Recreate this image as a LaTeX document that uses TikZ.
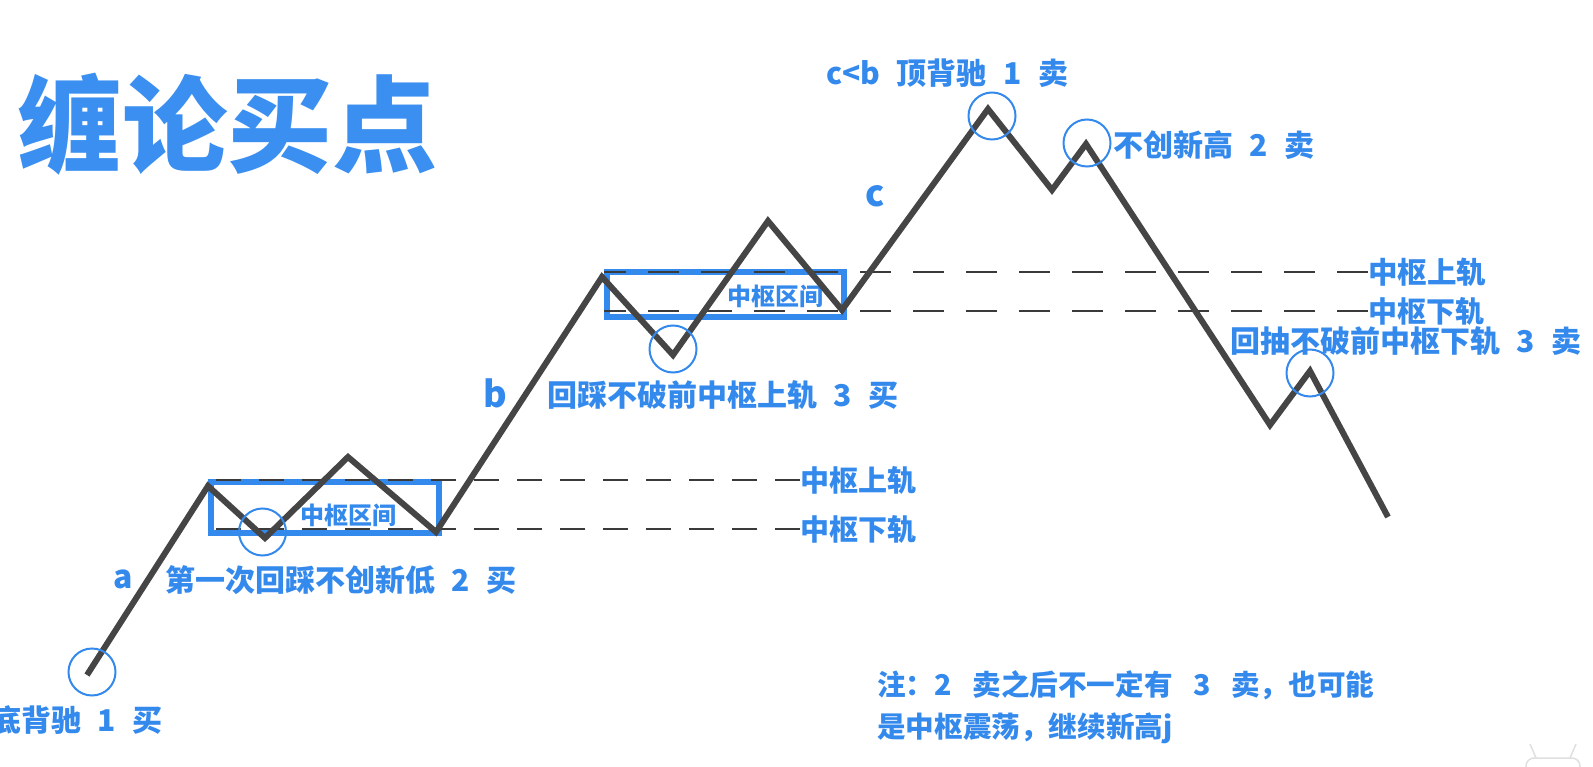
\documentclass[tikz,border=0pt]{standalone}
\usepackage{fontspec}
\newfontfamily\cjk{Noto Sans CJK SC}
\definecolor{cblue}{HTML}{3489EC}
\definecolor{ctitle}{HTML}{3A8FF0}
\definecolor{cline}{HTML}{454545}
\definecolor{cdash}{HTML}{3A3A3A}
\newcommand\spc{\hspace{0.55em}}
\newcommand\spcn{\hspace{0.72em}}
\tikzset{
  lbl/.style={text=cblue, font=\cjk\bfseries\fontsize{30}{34}\selectfont, inner sep=0pt, anchor=west},
  rail lbl/.style={lbl, font=\cjk\bfseries\fontsize{29.5}{34}\selectfont},
  small lbl/.style={lbl, font=\cjk\bfseries\fontsize{24}{28}\selectfont},
  note lbl/.style={lbl, font=\cjk\bfseries\fontsize{28.6}{32}\selectfont},
  leg lbl/.style={text=cblue, inner sep=0pt},
  ring/.style={circle, draw=cblue, line width=2pt, minimum size=47pt, inner sep=0pt},
  zig/.style={draw=cline, line width=6pt, line join=miter},
  zbox/.style={rectangle, draw=cblue, line width=6pt, inner sep=0pt},
  railA/.style={draw=cdash, line width=2.2pt, dash pattern=on 25pt off 18pt},
  railB/.style={draw=cdash, line width=2.2pt, dash pattern=on 31pt off 22pt},
}
\begin{document}
\begin{tikzpicture}[x=1pt,y=-1pt]
\path[fill=white] (0,0) rectangle (1593,767);
\useasboundingbox (0,0) rectangle (1593,767);

% title
\node[font=\cjk\bfseries\fontsize{105}{110}\selectfont, text=ctitle, inner sep=0pt] (title) at (227,124) {缠论买点};

% zhongshu boxes
\node[zbox, minimum width=228pt, minimum height=51pt] (zb1) at (325,507.5) {};
\node[zbox, minimum width=237pt, minimum height=45pt] (zb2) at (725.5,294.5) {};
\node[small lbl] (zt1) at (300,515) {中枢区间};
\node[small lbl] (zt2) at (727,296) {中枢区间};

% rail labels
\node[rail lbl, font=\cjk\bfseries\fontsize{29}{34}\selectfont] (lu1) at (800,480) {中枢上轨};
\node[rail lbl, font=\cjk\bfseries\fontsize{29}{34}\selectfont] (ld1) at (800,529) {中枢下轨};
\node[rail lbl] (lu2) at (1368,272) {中枢上轨};
\node[rail lbl, font=\cjk\bfseries\fontsize{29}{34}\selectfont] (ld2) at (1368,311) {中枢下轨};

% dashed rails
\draw[railA] (lu1.west) -- (lu1.west -| zb1.west);
\draw[railA] (ld1.west) -- (ld1.west -| zb1.west);
\draw[railB] (lu2.west) -- (lu2.west -| zb2.west);
\draw[railB] (ld2.west) -- (ld2.west -| zb2.west);

% price path
\coordinate (p0) at (87,675);
\coordinate (p1) at (208,486);
\coordinate (p2) at (265,538);
\coordinate (p3) at (348,457);
\coordinate (p4) at (436,532);
\coordinate (p5) at (602,277);
\coordinate (p6) at (673,355);
\coordinate (p7) at (768,221);
\coordinate (p8) at (842,310);
\coordinate (p9) at (988,109);
\coordinate (p10) at (1052,190);
\coordinate (p11) at (1086,144);
\coordinate (p12) at (1270,425);
\coordinate (p13) at (1310,371);
\coordinate (p14) at (1388,517);
\draw[zig] (p0) -- (p1) -- (p2) -- (p3) -- (p4) -- (p5) -- (p6) -- (p7)
  -- (p8) -- (p9) -- (p10) -- (p11) -- (p12) -- (p13) -- (p14);

% circles
\node[ring] (c0) at (92,672) {};
\node[ring] (c2) at (262.5,532) {};
\node[ring] (c6) at (673,349) {};
\node[ring] (c9) at (992,116) {};
\node[ring] (c11) at (1087,143) {};
\node[ring] (c13) at (1310,373) {};

% leg letters
\node[leg lbl, font=\cjk\bfseries\fontsize{32}{36}\selectfont] (la) at (123,579) {a};
\node[leg lbl, font=\cjk\bfseries\fontsize{36}{40}\selectfont] (lb) at (495,393) {b};
\node[leg lbl, font=\cjk\bfseries\fontsize{36}{40}\selectfont] (lc) at (875,196) {c};

% point labels
\node[lbl] (t0) at (-9,720) {底背驰\spc{}1\spc{}买};
\node[lbl] (t2) at (165,580) {第一次回踩不创新低\spc{}2\spc{}买};
\node[lbl] (t6) at (547,395) {回踩不破前中枢上轨\spc{}3\spc{}买};
\node[lbl] (t9) at (826,73) {c<b\spc{}顶背驰\spc{}1\spc{}卖};
\node[lbl] (t11) at (1113,145) {不创新高\spc{}2\spc{}卖};
\node[lbl] (t13) at (1230,341) {回抽不破前中枢下轨\spc{}3\spc{}卖};

% note
\node[note lbl] (n1) at (877,685) {注：2\spcn{}卖之后不一定有\spcn{}3\spcn{}卖，也可能};
\node[note lbl] (n2) at (877,728) {是中枢震荡，继续新高j};

% watermark
\draw[draw=black!12, line width=1.5pt, rounded corners=8pt]
  (1526,790) -- (1526,758) -- (1580,758) -- (1580,790);
\draw[draw=black!12, line width=1.5pt] (1536,758) -- (1530,744) (1570,758) -- (1576,744);
\end{tikzpicture}
\end{document}
